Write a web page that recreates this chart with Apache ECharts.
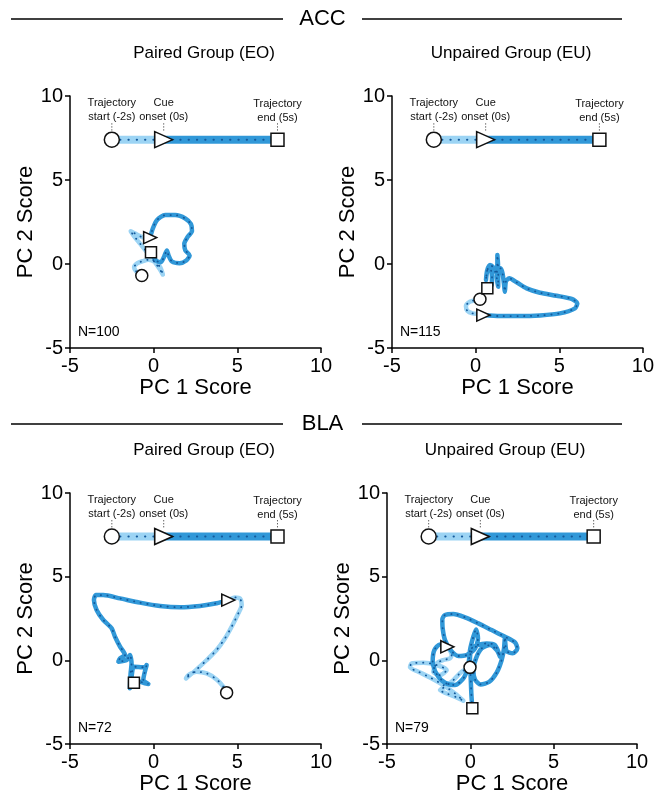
<!DOCTYPE html>
<html>
<head>
<meta charset="utf-8">
<script src="https://cdn.jsdelivr.net/npm/echarts@6/dist/echarts.min.js"></script>
<style>
  html, body { margin: 0; padding: 0; background: #ffffff; }
  #chart { width: 657px; height: 798px; }
</style>
</head>
<body>
<div id="chart"></div>
<script>
// ---- axis and labels ----
const axisTicks = [-5, 0, 5, 10];
const sectionTitles = ['ACC', 'BLA'];
const panelTitles = ['Paired Group (EO)', 'Unpaired Group (EU)', 'Paired Group (EO)', 'Unpaired Group (EU)'];
const neuronCounts = [100, 115, 72, 79];
const xAxisName = 'PC 1 Score';
const yAxisName = 'PC 2 Score';

// ---- timeline key (start, cue, end) ----
const keyX = [-2.5, 0.6, 7.4];
const keyY = 7.4;
const keyLabels = ['Trajectory\nstart (-2s)', 'Cue\nonset (0s)', 'Trajectory\nend (5s)'];

// ---- ACC, paired group: pre-cue and post-cue trajectory [PC1, PC2] ----
const accPairedPre = [
  [-0.71, -0.69], [-1.05, -0.43], [-1.17, -0.19], [-0.97, 0.05], [-0.65, 0.17],
  [-0.31, 0.25], [0.09, 0.11], [0.39, -0.19], [0.55, -0.63], [0.35, -0.29],
  [-0.01, 0.21], [-0.41, 0.71], [-0.81, 1.21], [-1.21, 1.71], [-1.37, 1.95],
  [-1.11, 1.81], [-0.71, 1.61], [-0.21, 1.57]
];
const accPairedPost = [
  [-0.21, 1.57], [-0.05, 2.11], [0.19, 2.61], [0.69, 2.91], [1.29, 2.91],
  [1.89, 2.71], [2.23, 2.37], [2.29, 1.97], [2.03, 1.61], [1.83, 1.21],
  [1.89, 0.81], [2.15, 0.51], [1.95, 0.21], [1.55, 0.05], [1.09, 0.15],
  [0.89, 0.51], [0.79, 0.81], [0.63, 0.45], [0.43, 0.11], [0.19, 0.17],
  [-0.01, 0.41], [-0.16, 0.70]
];

// ---- ACC, unpaired group ----
const accUnpairedPre = [
  [0.26, -2.10], [0.02, -2.14], [-0.34, -2.24], [-0.58, -2.50], [-0.50, -2.78],
  [-0.18, -2.94], [0.26, -2.98], [0.46, -3.04]
];
const accUnpairedPost = [
  [0.46, -3.04], [1.45, -3.10], [2.65, -3.10], [3.85, -3.06], [5.04, -2.94],
  [5.94, -2.64], [6.08, -2.34], [5.74, -2.08], [4.84, -1.89], [3.85, -1.71],
  [3.05, -1.45], [2.45, -1.09], [2.01, -0.85], [1.81, -1.05], [1.75, -1.65],
  [1.69, -1.15], [1.61, -0.56], [1.49, -0.26], [1.35, -0.66], [1.35, -1.35],
  [1.26, -0.75], [1.30, 0.04], [1.30, 0.54], [1.34, -0.06], [1.16, -0.46],
  [1.02, -0.16], [0.86, -0.06], [0.70, -0.36], [0.62, -0.95], [0.70, -0.36],
  [0.86, -0.26], [0.98, -0.75], [0.96, -1.25], [0.82, -1.39], [0.70, -1.45]
];

// ---- BLA, paired group ----
const blaPairedPre = [
  [4.36, -1.93], [4.16, -1.57], [3.76, -1.14], [3.17, -0.78], [2.57, -0.68],
  [2.07, -0.88], [1.93, -1.08], [2.17, -0.88], [2.57, -0.54], [3.17, 0.02],
  [3.76, 0.62], [4.26, 1.31], [4.66, 2.01], [5.06, 2.81], [5.26, 3.31],
  [5.16, 3.70], [4.86, 3.76], [4.46, 3.60]
];
const blaPairedPost = [
  [4.46, 3.60], [3.76, 3.41], [2.77, 3.25], [1.57, 3.17], [0.38, 3.25],
  [-0.82, 3.45], [-2.01, 3.70], [-3.01, 3.90], [-3.45, 3.90], [-3.57, 3.60],
  [-3.41, 3.01], [-3.01, 2.41], [-2.51, 1.91], [-2.31, 1.41], [-2.01, 0.82],
  [-1.71, 0.32], [-2.01, 0.12], [-2.11, -0.08], [-1.61, 0.02], [-1.42, 0.32],
  [-1.32, -0.18], [-1.38, -0.78], [-1.42, -1.67], [-1.32, -0.98], [-1.18, -0.38],
  [-0.52, -0.42], [-0.42, -0.28], [-0.62, -1.18], [-0.32, -1.41], [-0.52, -1.38],
  [-0.82, -1.28], [-1.18, -1.34]
];

// ---- BLA, unpaired group ----
const blaUnpairedPre = [
  [-0.02, -0.42], [-0.52, -0.68], [-1.02, -1.18], [-1.52, -1.58], [-1.82, -1.78],
  [-1.42, -1.98], [-0.82, -2.21], [-0.42, -2.41], [-0.92, -1.98], [-1.62, -1.48],
  [-2.42, -1.02], [-3.12, -0.68], [-3.62, -0.42], [-3.52, -0.18], [-2.82, -0.14],
  [-2.02, -0.28], [-1.42, -0.58], [-1.82, -0.88], [-2.22, -0.68], [-2.02, -0.18],
  [-1.62, 0.02], [-1.22, 0.12], [-1.12, 0.32], [-1.38, 0.81]
];
const blaUnpairedPost = [
  [-1.38, 0.81], [-1.82, 0.95], [-2.16, 0.61], [-2.26, -0.08], [-2.02, -0.82],
  [-1.52, -1.34], [-0.92, -1.48], [-0.38, -1.02], [-0.12, -0.28], [-0.02, 0.61],
  [0.18, 1.41], [0.34, 1.85], [0.46, 1.31], [0.28, 0.71], [-0.22, 0.32],
  [-0.72, 0.26], [-1.18, 0.61], [-1.52, 1.21], [-1.66, 1.91], [-1.68, 2.45],
  [-1.52, 2.71], [-1.02, 2.77], [-0.32, 2.57], [0.48, 2.21], [1.28, 1.81],
  [2.08, 1.41], [2.68, 1.07], [2.82, 0.71], [2.54, 0.42], [2.18, 0.55],
  [2.10, 1.01], [2.08, 1.41], [2.02, 0.71], [1.88, 0.02], [1.58, -0.74],
  [1.14, -1.28], [0.62, -1.44], [0.28, -1.14], [0.18, -0.58], [0.34, 0.12],
  [0.68, 0.71], [1.18, 0.91], [1.58, 0.61], [1.78, 0.22], [1.48, 0.91],
  [0.98, 1.01], [0.42, 0.91], [0.08, 0.71], [-0.02, 0.02], [0.02, -0.98],
  [0.06, -1.98], [0.12, -2.87]
];

const trajectories = [
  [accPairedPre, accPairedPost],
  [accUnpairedPre, accUnpairedPost],
  [blaPairedPre, blaPairedPost],
  [blaUnpairedPre, blaUnpairedPost]
];

// ---- layout ----
const grids = [
  { left: 70, top: 96, width: 251, height: 252 },
  { left: 392, top: 96, width: 251, height: 252 },
  { left: 70, top: 493, width: 251, height: 251 },
  { left: 387, top: 493, width: 250, height: 251 }
];

const LIGHT = '#9cd4f4';
const DARK = '#3198d8';
const DOT = '#145a9c';
const FONT = '"Liberation Sans", Arial, Helvetica, sans-serif';

const chart = echarts.init(document.getElementById('chart'), null, { renderer: 'canvas' });

const xAxes = [], yAxes = [], series = [];

const axisCommon = {
  min: axisTicks[0],
  max: axisTicks[axisTicks.length - 1],
  interval: 5,
  axisLine: { onZero: false, lineStyle: { color: '#000', width: 1.5 } },
  axisTick: { length: 5, lineStyle: { color: '#000', width: 1.5 } },
  axisLabel: { color: '#000', fontSize: 20, fontFamily: FONT },
  splitLine: { show: false },
  nameLocation: 'middle',
  nameTextStyle: { color: '#000', fontSize: 22, fontFamily: FONT }
};

function pathSeries(i, data, color, width) {
  return [
    {
      type: 'line', xAxisIndex: i, yAxisIndex: i, data: data,
      smooth: 0.25, symbol: 'none', silent: true, z: 2,
      lineStyle: { color: color, width: width, cap: 'round', join: 'round' }
    },
    {
      type: 'line', xAxisIndex: i, yAxisIndex: i, data: data,
      smooth: 0.25, symbol: 'none', silent: true, z: 3,
      lineStyle: { color: DOT, width: 1.8, type: [0.3, 6.5], cap: 'round' }
    }
  ];
}

function markerItem(pt, kind, big) {
  if (kind === 0) return { value: pt, symbol: 'circle', symbolSize: big ? 15 : 12 };
  if (kind === 1) return { value: pt, symbol: 'triangle', symbolSize: big ? [16, 18] : [12, 13], symbolRotate: -90 };
  return { value: pt, symbol: 'rect', symbolSize: big ? 13 : 11 };
}

const markerStyle = { color: '#fff', borderColor: '#111', borderWidth: 1.5, opacity: 1 };

grids.forEach((g, i) => {
  xAxes.push(Object.assign({}, axisCommon, { gridIndex: i, type: 'value', name: xAxisName, nameGap: 26 }));
  yAxes.push(Object.assign({}, axisCommon, {
    gridIndex: i, type: 'value', name: yAxisName, nameGap: 28,
    axisLabel: Object.assign({}, axisCommon.axisLabel, { margin: 7 })
  }));

  const [pre, post] = trajectories[i];
  series.push(...pathSeries(i, pre, LIGHT, 4.5));
  series.push(...pathSeries(i, post, DARK, 4.5));
  series.push({
    type: 'scatter', xAxisIndex: i, yAxisIndex: i, z: 6, silent: true,
    itemStyle: markerStyle,
    data: [markerItem(pre[0], 0), markerItem(post[0], 1), markerItem(post[post.length - 1], 2)]
  });

  // timeline key
  const kStart = [keyX[0], keyY], kCue = [keyX[1], keyY], kEnd = [keyX[2], keyY];
  [[[kStart, kCue], LIGHT], [[kCue, kEnd], DARK]].forEach(([d, c]) => {
    series.push({
      type: 'line', xAxisIndex: i, yAxisIndex: i, data: d, symbol: 'none', silent: true, z: 2,
      lineStyle: { color: c, width: 8 }
    });
    series.push({
      type: 'line', xAxisIndex: i, yAxisIndex: i, data: d, symbol: 'none', silent: true, z: 3,
      lineStyle: { color: DOT, width: 2, type: [0.3, 8], cap: 'round' }
    });
  });
  keyX.forEach((kx) => {
    series.push({
      type: 'line', xAxisIndex: i, yAxisIndex: i, data: [[kx, keyY + 0.55], [kx, keyY + 1.05]],
      symbol: 'none', silent: true, z: 3,
      lineStyle: { color: '#222', width: 1, type: [1, 2] }
    });
  });
  series.push({
    type: 'scatter', xAxisIndex: i, yAxisIndex: i, z: 6, silent: true,
    itemStyle: markerStyle,
    label: {
      show: true, position: 'top', distance: 7, color: '#111', fontSize: 11,
      fontFamily: FONT, lineHeight: 14, align: 'center',
      formatter: (p) => keyLabels[p.dataIndex]
    },
    data: [markerItem(kStart, 0, true), markerItem(kCue, 1, true), markerItem(kEnd, 2, true)]
  });
});

// section headers, panel titles and counts
const graphics = [];
function sectionHeader(text, y, leftEnd, rightStart) {
  graphics.push({ type: 'line', shape: { x1: 11, y1: y, x2: leftEnd, y2: y }, style: { stroke: '#000', lineWidth: 1.5 } });
  graphics.push({ type: 'line', shape: { x1: rightStart, y1: y, x2: 622, y2: y }, style: { stroke: '#000', lineWidth: 1.5 } });
  graphics.push({
    type: 'text', x: (leftEnd + rightStart) / 2, y: y,
    style: { text: text, fill: '#000', font: '22px ' + FONT, textAlign: 'center', textVerticalAlign: 'middle' }
  });
}
sectionHeader(sectionTitles[0], 19, 283, 362);
sectionHeader(sectionTitles[1], 424, 283, 362);

const titlePos = [[204, 53], [511, 53], [204, 450], [505, 450]];
panelTitles.forEach((t, i) => {
  graphics.push({
    type: 'text', x: titlePos[i][0], y: titlePos[i][1],
    style: { text: t, fill: '#000', font: '17px ' + FONT, textAlign: 'center', textVerticalAlign: 'middle' }
  });
  const g = grids[i];
  graphics.push({
    type: 'text', x: g.left + 8, y: g.top + g.height - 16,
    style: { text: 'N=' + neuronCounts[i], fill: '#000', font: '14px ' + FONT, textAlign: 'left', textVerticalAlign: 'middle' }
  });
});

chart.setOption({
  backgroundColor: '#ffffff',
  animation: false,
  grid: grids.map((g) => Object.assign({ containLabel: false }, g)),
  xAxis: xAxes,
  yAxis: yAxes,
  series: series,
  graphic: graphics
});
</script>
</body>
</html>
